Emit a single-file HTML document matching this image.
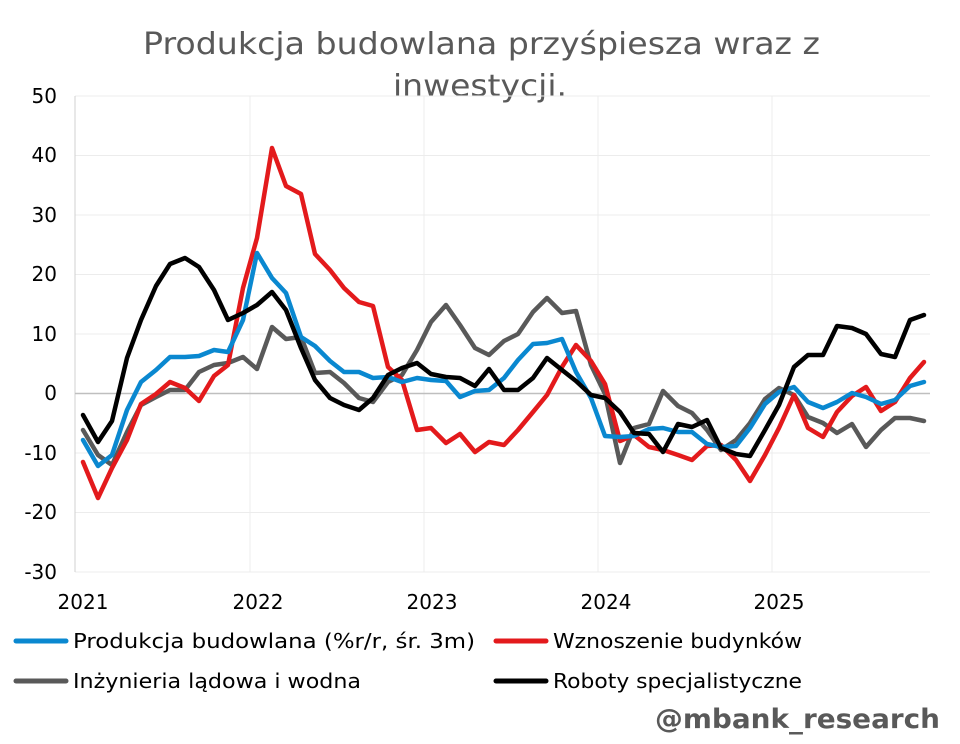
<!DOCTYPE html>
<html><head><meta charset="utf-8"><style>
body{margin:0;background:#fff;width:960px;height:744px;overflow:hidden}
svg{display:block}
text{font-family:"DejaVu Sans","Liberation Sans",sans-serif}
</style></head><body>
<svg width="960" height="744" viewBox="0 0 960 744">
<text x="143" y="54" font-size="30" fill="#595959" textLength="677" lengthAdjust="spacingAndGlyphs">Produkcja budowlana przyśpiesza wraz z</text>
<text x="393" y="96" font-size="30" fill="#595959" textLength="174" lengthAdjust="spacingAndGlyphs">inwestycji.</text>
<g stroke="#ececec" stroke-width="1">
<line x1="75" y1="96" x2="930" y2="96"/><line x1="75" y1="155.5" x2="930" y2="155.5"/><line x1="75" y1="215" x2="930" y2="215"/><line x1="75" y1="274.5" x2="930" y2="274.5"/><line x1="75" y1="334" x2="930" y2="334"/><line x1="75" y1="453" x2="930" y2="453"/><line x1="75" y1="512.5" x2="930" y2="512.5"/><line x1="75" y1="572" x2="930" y2="572"/>
<line x1="250" y1="96" x2="250" y2="572"/><line x1="424" y1="96" x2="424" y2="572"/><line x1="598" y1="96" x2="598" y2="572"/><line x1="772" y1="96" x2="772" y2="572"/>
</g>
<line x1="75" y1="96" x2="75" y2="572" stroke="#d0d0d0"/>
<line x1="75" y1="393.5" x2="930" y2="393.5" stroke="#bfbfbf" stroke-width="1.5"/>
<g font-size="20" fill="#000" text-anchor="end">
<text x="57" y="103">50</text><text x="57" y="162">40</text><text x="57" y="222">30</text><text x="57" y="281">20</text><text x="57" y="341">10</text><text x="57" y="400">0</text><text x="57" y="460">-10</text><text x="57" y="519">-20</text><text x="57" y="579">-30</text>
</g>
<g font-size="20" fill="#000" text-anchor="middle">
<text x="83" y="609">2021</text><text x="258" y="609">2022</text><text x="432" y="609">2023</text><text x="606" y="609">2024</text><text x="779" y="609">2025</text>
</g>
<g fill="none" stroke-width="4.5" stroke-linejoin="round" stroke-linecap="round">
<polyline stroke="#595959" points="83,430 98,455 112,465 127,432 141,405 156,397 170,390 185,390 199,372 214,365 228,363 243,357 257,369 272,327 286,339 301,337 315,373 330,372 344,383 359,398 373,402 388,382 402,375 417,350 431,322 446,305 460,325 475,348 489,355 504,341 518,334 533,312 547,298 562,313 576,311 591,365 605,394 620,463 634,428 649,424 663,391 678,406 692,413 707,430 721,450 736,440 750,423 765,399 779,388 794,395 808,417 823,423 837,433 852,424 866,447 881,430 895,418 910,418 924,421"/>
<polyline stroke="#e31a1c" points="83,462 98,498 112,468 127,440 141,404 156,394 170,382 185,388 199,401 214,376 228,365 243,288 257,238 272,148 286,186 301,194 315,254 330,270 344,288 359,302 373,306 388,367 402,380 417,430 431,428 446,443 460,434 475,452 489,442 504,445 518,430 533,412 547,395 562,367 576,345 591,361 605,384 620,441 634,435 649,447 663,450 678,455 692,460 707,446 721,445 736,460 750,481 765,455 779,428 794,395 808,428 823,437 837,412 852,396 866,387 881,411 895,402 910,378 924,362"/>
<polyline stroke="#0a88d0" points="83,440 98,466 112,455 127,410 141,382 156,370 170,357 185,357 199,356 214,350 228,352 243,320 257,253 272,278 286,293 301,337 315,346 330,361 344,372 359,372 373,378 388,377 402,382 417,378 431,380 446,381 460,397 475,391 489,390 504,378 518,360 533,344 547,343 562,339 576,372 591,398 605,436 620,437 634,436 649,429 663,428 678,432 692,432 707,444 721,447 736,446 750,428 765,404 779,392 794,387 808,402 823,408 837,402 852,393 866,397 881,404 895,400 910,386 924,382"/>
<polyline stroke="#000" points="83,415 98,442 112,421 127,358 141,320 156,286 170,264 185,258 199,267 214,290 228,320 243,313 257,305 272,292 286,310 301,348 315,380 330,398 344,405 359,410 373,398 388,375 402,368 417,363 431,374 446,377 460,378 475,386 489,369 504,390 518,390 533,378 547,358 562,370 576,381 591,395 605,398 620,412 634,433 649,434 663,452 678,424 692,427 707,420 721,448 736,454 750,456 765,430 779,405 794,367 808,355 823,355 837,326 852,328 866,334 881,354 895,357 910,320 924,315"/>
</g>
<g stroke-width="5" stroke-linecap="round">
<line x1="16" y1="641" x2="66" y2="641" stroke="#0a88d0"/>
<line x1="496" y1="641" x2="546" y2="641" stroke="#e31a1c"/>
<line x1="16" y1="681" x2="66" y2="681" stroke="#595959"/>
<line x1="496" y1="681" x2="546" y2="681" stroke="#000"/>
</g>
<g font-size="20" fill="#000" lengthAdjust="spacingAndGlyphs">
<text x="73" y="648" textLength="402" lengthAdjust="spacingAndGlyphs">Produkcja budowlana (%r/r, śr. 3m)</text>
<text x="553" y="648" textLength="249" lengthAdjust="spacingAndGlyphs">Wznoszenie budynków</text>
<text x="73" y="688" textLength="288" lengthAdjust="spacingAndGlyphs">Inżynieria lądowa i wodna</text>
<text x="553" y="688" textLength="249" lengthAdjust="spacingAndGlyphs">Roboty specjalistyczne</text>
</g>
<text x="655" y="728" font-size="27" font-weight="bold" fill="#595959" textLength="285" lengthAdjust="spacingAndGlyphs">@mbank_research</text>
</svg>
</body></html>
